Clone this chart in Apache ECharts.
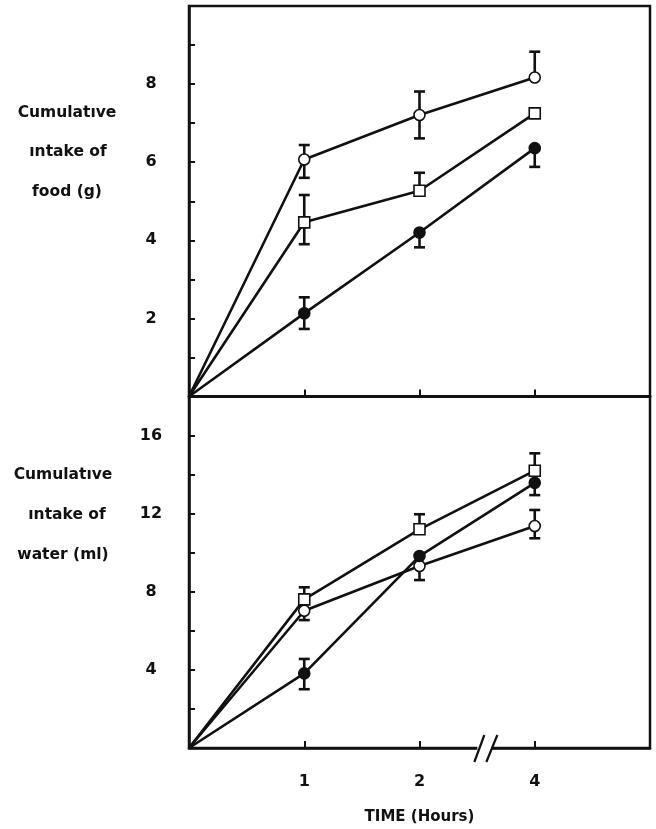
<!DOCTYPE html>
<html>
<head>
<meta charset="utf-8">
<script src="https://cdn.jsdelivr.net/npm/echarts@6/dist/echarts.min.js"></script>
<style>
  html, body { margin: 0; padding: 0; background: #fff; }
  #chart { width: 656px; height: 829px; }
</style>
</head>
<body>
<div id="chart"></div>
<script>
// Sampling times (hours); plotted at evenly spaced positions 0..3
const timeLabels = ['0', '1', '2', '4'];

// Cumulative food intake (g)
const foodOpen     = [0, 6.07, 7.21, 8.17];
const foodOpenUp   = [0, 0.37, 0.60, 0.66];
const foodOpenDn   = [0, 0.47, 0.60, 0];
const foodSquare   = [0, 4.46, 5.27, 7.25];
const foodSquareUp = [0, 0.70, 0.46, 0];
const foodSquareDn = [0, 0.56, 0, 0];
const foodFilled   = [0, 2.13, 4.20, 6.36];
const foodFilledUp = [0, 0.41, 0, 0];
const foodFilledDn = [0, 0.40, 0.38, 0.48];

// Cumulative water intake (ml)
const waterOpen     = [0, 7.03, 9.32, 11.37];
const waterOpenUp   = [0, 0, 0, 0.82];
const waterOpenDn   = [0, 0.48, 0.72, 0.63];
const waterSquare   = [0, 7.61, 11.20, 14.20];
const waterSquareUp = [0, 0.62, 0.77, 0.89];
const waterSquareDn = [0, 0, 0, 0];
const waterFilled   = [0, 3.82, 9.83, 13.58];
const waterFilledUp = [0, 0.74, 0, 0];
const waterFilledDn = [0, 0.81, 0, 0.63];

// Labelled ticks on each y axis
const foodTicks = [2, 4, 6, 8];
const waterTicks = [4, 8, 12, 16];

const FONT = 'DejaVu Sans';
const INK = '#111';

function markerStyle(kind) {
  if (kind === 'filled') return { symbol: 'circle', color: INK };
  if (kind === 'square') return { symbol: 'rect', color: '#fff' };
  return { symbol: 'circle', color: '#fff' };
}

function lineSeries(axis, values, kind) {
  const m = markerStyle(kind);
  return {
    type: 'line',
    xAxisIndex: axis, yAxisIndex: axis,
    data: values.map((v, i) => i === 0
      ? { value: [i, v], symbol: 'none' }
      : { value: [i, v] }),
    symbol: m.symbol,
    symbolSize: 11,
    showAllSymbol: true,
    itemStyle: { color: m.color, borderColor: INK, borderWidth: 1.6, opacity: 1 },
    lineStyle: { color: INK, width: 2.6 },
    z: 3,
    animation: false,
    silent: true
  };
}

function errorSeries(axis, values, up, dn) {
  return {
    type: 'custom',
    xAxisIndex: axis, yAxisIndex: axis,
    data: values.map((v, i) => [i, v, up[i], dn[i]]),
    renderItem: function (params, api) {
      const x = api.value(0), y = api.value(1);
      const u = api.value(2), d = api.value(3);
      const c = api.coord([x, y]);
      const half = 5.5;
      const style = { stroke: INK, lineWidth: 2.6 };
      const kids = [];
      [[u, 1], [d, -1]].forEach(function (pair) {
        if (pair[0] > 0) {
          const e = api.coord([x, y + pair[1] * pair[0]]);
          kids.push({ type: 'line', shape: { x1: c[0], y1: c[1], x2: e[0], y2: e[1] }, style: style });
          kids.push({ type: 'line', shape: { x1: e[0] - half, y1: e[1], x2: e[0] + half, y2: e[1] }, style: style });
        }
      });
      return { type: 'group', children: kids };
    },
    z: 2,
    animation: false,
    silent: true
  };
}

function yAxisCfg(grid, max, interval, ticks) {
  return {
    type: 'value', gridIndex: grid, min: 0, max: max, interval: interval,
    axisLine: { show: true, lineStyle: { color: INK, width: 2.5 } },
    axisTick: { show: true, inside: true, length: 6, lineStyle: { color: INK, width: 2 } },
    splitLine: { show: false },
    axisLabel: {
      margin: 38, align: 'center',
      fontFamily: FONT, fontWeight: 'bold', fontSize: 16, color: INK,
      formatter: v => ticks.includes(v) ? String(v) : ''
    }
  };
}

function xAxisCfg(grid, withLabels) {
  const cfg = {
    type: 'value', gridIndex: grid, min: 0, max: 4, interval: 1,
    axisLine: { show: true, lineStyle: { color: INK, width: 2.5 } },
    axisTick: { show: true, inside: true, length: 7, lineStyle: { color: INK, width: 2 } },
    splitLine: { show: false },
    axisLabel: { show: false }
  };
  if (withLabels) {
    cfg.axisLabel = {
      show: true, margin: 26,
      fontFamily: FONT, fontWeight: 'bold', fontSize: 16, color: INK,
      formatter: v => (v >= 1 && v <= 3) ? timeLabels[v] : ''
    };
    cfg.name = 'TIME (Hours)';
    cfg.nameLocation = 'middle';
    cfg.nameGap = 62;
    cfg.nameTextStyle = { fontFamily: FONT, fontWeight: 'bold', fontSize: 15, color: INK };
  }
  return cfg;
}

function sideTitle(lines) {
  return lines.map(l => ({
    type: 'text', x: l[1], y: l[2], silent: true,
    style: {
      text: l[0], fill: INK, font: 'bold 15.5px "' + FONT + '"',
      align: 'center', verticalAlign: 'middle'
    }
  }));
}

const chart = echarts.init(document.getElementById('chart'), null, { renderer: 'canvas' });

chart.setOption({
  backgroundColor: '#fff',
  animation: false,
  grid: [
    { left: 189, right: 6, top: 6, height: 390.5, show: true, borderColor: INK, borderWidth: 2.5, backgroundColor: 'transparent' },
    { left: 189, right: 6, top: 396.5, height: 351.5, show: true, borderColor: INK, borderWidth: 2.5, backgroundColor: 'transparent' }
  ],
  xAxis: [xAxisCfg(0, false), xAxisCfg(1, true)],
  yAxis: [yAxisCfg(0, 10, 1, foodTicks), yAxisCfg(1, 18, 2, waterTicks)],
  series: [
    errorSeries(0, foodOpen, foodOpenUp, foodOpenDn),
    errorSeries(0, foodSquare, foodSquareUp, foodSquareDn),
    errorSeries(0, foodFilled, foodFilledUp, foodFilledDn),
    lineSeries(0, foodOpen, 'open'),
    lineSeries(0, foodSquare, 'square'),
    lineSeries(0, foodFilled, 'filled'),
    errorSeries(1, waterOpen, waterOpenUp, waterOpenDn),
    errorSeries(1, waterSquare, waterSquareUp, waterSquareDn),
    errorSeries(1, waterFilled, waterFilledUp, waterFilledDn),
    lineSeries(1, waterOpen, 'open'),
    lineSeries(1, waterSquare, 'square'),
    lineSeries(1, waterFilled, 'filled')
  ]
});

// Axis break between 2 h and 4 h on the time axis
const brk = chart.convertToPixel({ xAxisIndex: 1, yAxisIndex: 1 }, [2.58, 0]);
const bx = brk[0], by = brk[1];

chart.setOption({
  graphic: [
    ...sideTitle([
      ['Cumulatıve', 67, 113],
      ['ıntake of', 68, 152],
      ['food (g)', 67, 192],
      ['Cumulatıve', 63, 475],
      ['ıntake of', 67, 515],
      ['water (ml)', 63, 555]
    ]),
    { type: 'rect', shape: { x: bx - 9, y: by - 3, width: 14, height: 6 }, style: { fill: '#fff' }, z: 50, silent: true },
    { type: 'line', shape: { x1: bx - 12, y1: by + 14, x2: bx - 2, y2: by - 13 }, style: { stroke: INK, lineWidth: 2.2 }, z: 51, silent: true },
    { type: 'line', shape: { x1: bx, y1: by + 14, x2: bx + 11, y2: by - 13 }, style: { stroke: INK, lineWidth: 2.2 }, z: 51, silent: true }
  ]
});
</script>
</body>
</html>
